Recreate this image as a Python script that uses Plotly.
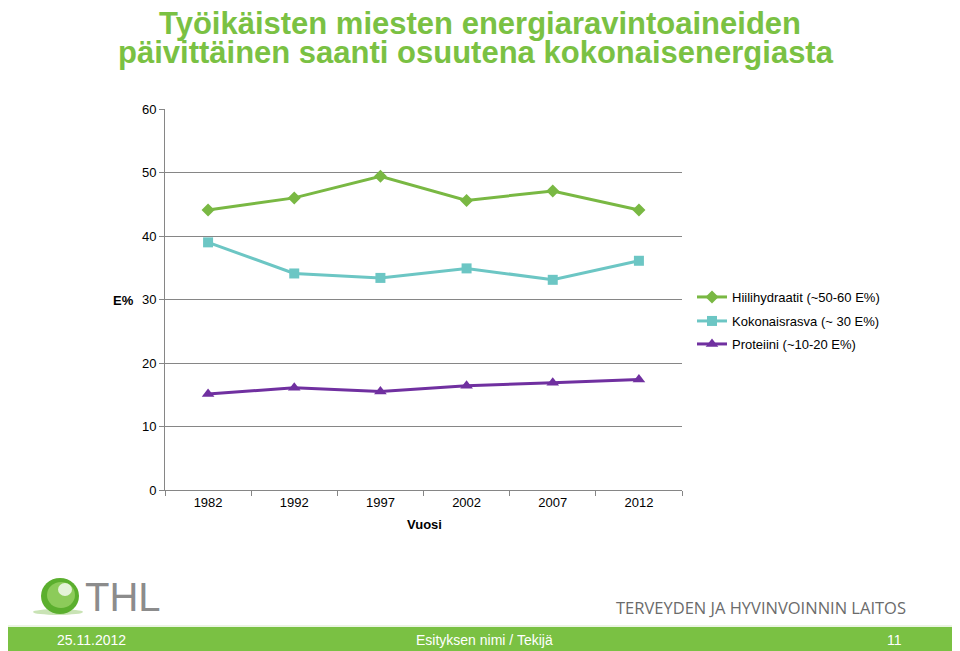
import plotly.graph_objects as go

years = ["1982", "1992", "1997", "2002", "2007", "2012"]
hiilihydraatit = [44.1, 46.0, 49.4, 45.6, 47.1, 44.1]
kokonaisrasva = [39.0, 34.1, 33.4, 34.9, 33.1, 36.1]
proteiini = [15.1, 16.1, 15.5, 16.4, 16.9, 17.4]

series_names = ["Hiilihydraatit (~50-60 E%)", "Kokonaisrasva (~ 30 E%)", "Proteiini (~10-20 E%)"]
y_ticks = [0, 10, 20, 30, 40, 50, 60]

# the page body adds an 8px offset; the figure fills the rest of the 960x651 window
OFF = 8
W, H = 960 - OFF, 651 - OFF
L, R, T, B = 165, 682, 109, 490  # plot area in window pixels


def px(x):
    return (x - L) / (R - L)


def py(y):
    return (B - y) / (B - T)


GREEN = "#7AC143"
font = "Liberation Sans, Arial, sans-serif"

fig = go.Figure()
fig.add_trace(go.Scatter(x=years, y=hiilihydraatit, name=series_names[0], mode="lines+markers",
                         line=dict(color="#79B843", width=3),
                         marker=dict(symbol="diamond", size=10, color="#79B843"), legend="legend"))
fig.add_trace(go.Scatter(x=years, y=kokonaisrasva, name=series_names[1], mode="lines+markers",
                         line=dict(color="#6CC6C4", width=3),
                         marker=dict(symbol="square", size=10, color="#6CC6C4"), legend="legend2"))
fig.add_trace(go.Scatter(x=years, y=proteiini, name=series_names[2], mode="lines+markers",
                         line=dict(color="#7030A0", width=3),
                         marker=dict(symbol="triangle-up", size=11, color="#7030A0"), legend="legend3"))


def leg(ycenter):
    return dict(x=px(692), y=py(ycenter), xanchor="left", yanchor="middle",
                font=dict(size=13, family=font, color="#000"), itemwidth=30,
                bgcolor="rgba(0,0,0,0)", borderwidth=0)


fig.update_layout(
    width=W, height=H,
    margin=dict(l=L - OFF, r=960 - R, t=T - OFF, b=651 - B, pad=0),
    paper_bgcolor="white", plot_bgcolor="white",
    font=dict(family=font, size=13, color="#000000"),
    showlegend=True,
    legend=leg(297), legend2=leg(321), legend3=leg(344),
    xaxis=dict(type="category", range=[-0.5, 5.5], tickson="boundaries",
               ticks="outside", ticklen=5, tickcolor="#868686",
               showline=True, linecolor="#868686", linewidth=1,
               showgrid=False, tickfont=dict(size=13), fixedrange=True),
    yaxis=dict(range=[0, 60], tickvals=y_ticks, ticks="outside", ticklen=5,
               tickcolor="#868686", showline=True, linecolor="#868686", linewidth=1,
               showgrid=True, gridcolor="#868686", gridwidth=1, zeroline=False,
               tickfont=dict(size=13), fixedrange=True),
)

annotations = [
    dict(text="<b>Työikäisten miesten energiaravintoaineiden</b>", x=px(480), y=py(23),
         font=dict(size=31, color=GREEN, family=font)),
    dict(text="<b>päivittäinen saanti osuutena kokonaisenergiasta</b>", x=px(476), y=py(52),
         font=dict(size=31, color=GREEN, family=font)),
    dict(text="<b>E%</b>", x=px(123), y=py(300), font=dict(size=13, family=font)),
    dict(text="<b>Vuosi</b>", x=px(424), y=py(524), font=dict(size=13, family=font)),
    dict(text="THL", x=px(123), y=py(597), font=dict(size=40, color="#8C8C8C", family=font)),
    dict(text="TERVEYDEN JA HYVINVOINNIN LAITOS", x=px(761), y=py(607),
         font=dict(size=16.5, color="#6B6B6B", family="Open Sans, sans-serif")),
    dict(text="25.11.2012", x=px(91), y=py(640), font=dict(size=14, color="white", family=font)),
    dict(text="Esityksen nimi / Tekijä", x=px(484), y=py(640), font=dict(size=14, color="white", family=font)),
    dict(text="11", x=px(894), y=py(640), font=dict(size=14, color="white", family=font)),
]
for a in annotations:
    a.update(xref="paper", yref="paper", showarrow=False, xanchor="center", yanchor="middle")
    fig.add_annotation(**a)

shapes = [
    # bottom green bar
    dict(type="rect", x0=px(0), x1=px(962), y0=py(627), y1=py(653), fillcolor=GREEN, line=dict(width=0)),
    dict(type="line", x0=px(0), x1=px(962), y0=py(626), y1=py(626), line=dict(color="#D6EBC6", width=1)),
    # logo shadow and sphere
    dict(type="circle", x0=px(33), x1=px(83), y0=py(609), y1=py(615), fillcolor="#C9E3B5", line=dict(width=0)),
    dict(type="circle", x0=px(41), x1=px(79), y0=py(578), y1=py(614), fillcolor="#5BAF2E", line=dict(width=0)),
    dict(type="circle", x0=px(47), x1=px(75), y0=py(582), y1=py(608), fillcolor="#8CCB5A", line=dict(width=0)),
    dict(type="circle", x0=px(58), x1=px(72), y0=py(583), y1=py(596), fillcolor="#E4F3D8", line=dict(width=0)),
]
for s in shapes:
    s.update(xref="paper", yref="paper", layer="above")
    fig.add_shape(**s)

fig.write_html("out.html")
